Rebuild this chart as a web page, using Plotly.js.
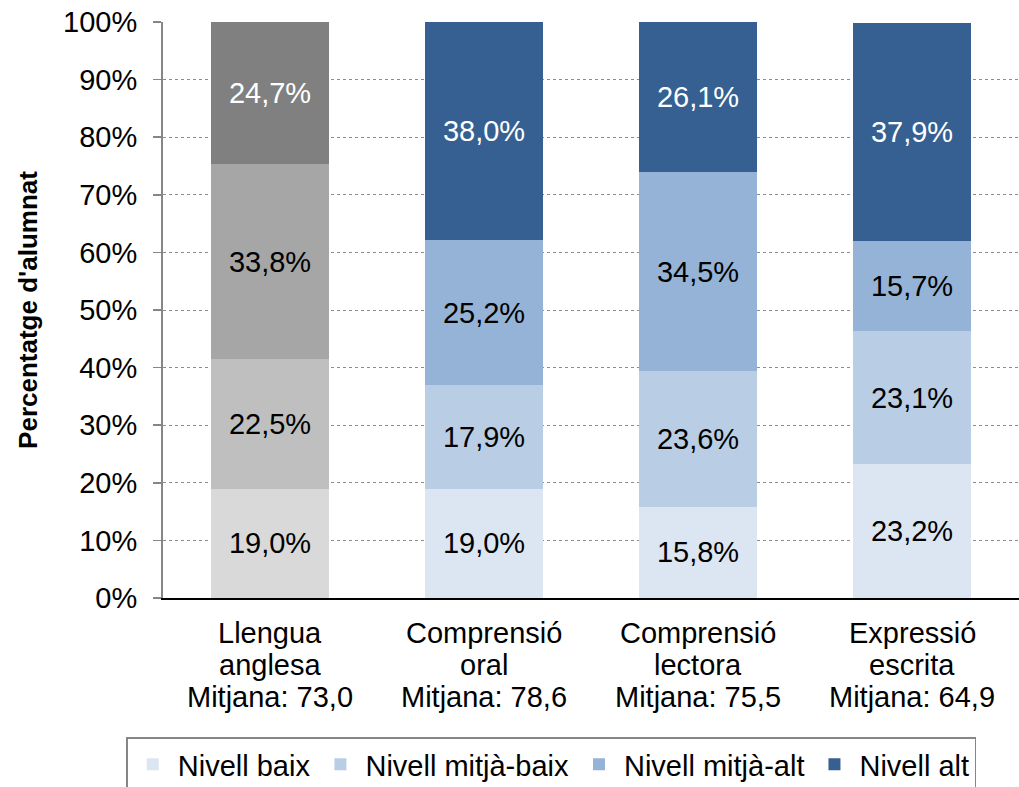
<!DOCTYPE html>
<html>
<head>
<meta charset="utf-8">
<script src="https://cdn.plot.ly/plotly-3.0.1.min.js"></script>
<style>html,body{margin:0;padding:0;background:#fff;}#chart{width:1019px;height:787px;}</style>
</head>
<body>
<div id="chart"></div>
<script>
// ---- Data ----
const subjectLine1 = ['Llengua', 'Comprensió', 'Comprensió', 'Expressió'];
const subjectLine2 = ['anglesa', 'oral', 'lectora', 'escrita'];
const means = ['73,0', '78,6', '75,5', '64,9'];
const levelNames = ['Nivell baix', 'Nivell mitjà-baix', 'Nivell mitjà-alt', 'Nivell alt'];
const nivellBaix = [19.0, 19.0, 15.8, 23.2];
const nivellMitjaBaix = [22.5, 17.9, 23.6, 23.1];
const nivellMitjaAlt = [33.8, 25.2, 34.5, 15.7];
const nivellAlt = [24.7, 38.0, 26.1, 37.9];
const yTicks = [0, 10, 20, 30, 40, 50, 60, 70, 80, 90, 100];

// ---- Styles ----
const blueColors = ['#dce6f2', '#b9cde5', '#95b3d7', '#376092'];
const greyColors = ['#d9d9d9', '#bfbfbf', '#a6a6a6', '#808080'];
const textColors = ['#000000', '#000000', '#000000', '#ffffff'];
const FONT = 'Arial, "Liberation Sans", sans-serif';

const categories = subjectLine1.map((s, i) => s + ' ' + subjectLine2[i]);
const series = [nivellBaix, nivellMitjaBaix, nivellMitjaAlt, nivellAlt];

const traces = [];
series.forEach((vals, k) => {
  traces.push({
    type: 'bar', x: [categories[0]], y: [vals[0]], name: levelNames[k],
    showlegend: false, legendgroup: 'g' + k,
    marker: {color: greyColors[k], line: {width: 0}},
    texttemplate: '%{y:.1f}%', textposition: 'inside', insidetextanchor: 'middle',
    textangle: 0, constraintext: 'none',
    textfont: {family: FONT, size: 29, color: textColors[k]},
    hoverinfo: 'skip'
  });
});
series.forEach((vals, k) => {
  traces.push({
    type: 'bar', x: categories.slice(1), y: vals.slice(1), name: levelNames[k],
    legendgroup: 'g' + k,
    marker: {color: blueColors[k], line: {width: 0}},
    texttemplate: '%{y:.1f}%', textposition: 'inside', insidetextanchor: 'middle',
    textangle: 0, constraintext: 'none',
    textfont: {family: FONT, size: 29, color: textColors[k]},
    hoverinfo: 'skip'
  });
});

// category labels (three lines each) under the axis
const annotations = [];
const lineShifts = [-35, -67, -99];
categories.forEach((c, i) => {
  const lines = [subjectLine1[i], subjectLine2[i], 'Mitjana: ' + means[i]];
  lines.forEach((t, j) => {
    annotations.push({
      x: c, xref: 'x', y: 0, yref: 'paper', yanchor: 'middle', xanchor: 'center',
      yshift: lineShifts[j], text: t, showarrow: false,
      font: {family: FONT, size: 29, color: '#000'}
    });
  });
});

const layout = {
  width: 1019, height: 787,
  margin: {l: 163, r: 0, t: 22, b: 189},
  paper_bgcolor: '#ffffff', plot_bgcolor: 'rgba(0,0,0,0)',
  separators: ',.',
  barmode: 'stack', bargap: 0.449,
  font: {family: FONT, size: 29, color: '#000'},
  showlegend: true,
  legend: {
    orientation: 'h', traceorder: 'normal',
    xref: 'container', yref: 'container',
    x: 0.541, xanchor: 'center', y: 0.063, yanchor: 'top',
    bordercolor: '#868686', borderwidth: 1.5, bgcolor: 'rgba(255,255,255,0)',
    font: {family: FONT, size: 29, color: '#000'},
    itemwidth: 40
  },
  annotations: annotations,
  xaxis: {
    type: 'category', categoryorder: 'array', categoryarray: categories,
    showline: true, linecolor: '#000000', linewidth: 2,
    ticks: '', showgrid: false, showticklabels: false,
    fixedrange: true
  },
  yaxis: {
    range: [0, 100], tickvals: yTicks, ticktext: yTicks.map(v => v + '%'),
    showline: true, linecolor: '#868686', linewidth: 2,
    ticks: 'outside', ticklen: 8, tickcolor: '#868686', tickwidth: 1.5,
    showgrid: true, gridcolor: '#8c8c8c', gridwidth: 1, griddash: 'dot',
    zeroline: false,
    tickfont: {family: FONT, size: 29, color: '#000'},
    ticklabelstandoff: 10,
    title: {text: "Percentatge d'alumnat", font: {family: FONT, size: 26, color: '#000', weight: 'bold'}, standoff: 18},
    fixedrange: true
  }
};

Plotly.newPlot('chart', traces, layout, {displayModeBar: false, staticPlot: true});
</script>
</body>
</html>
